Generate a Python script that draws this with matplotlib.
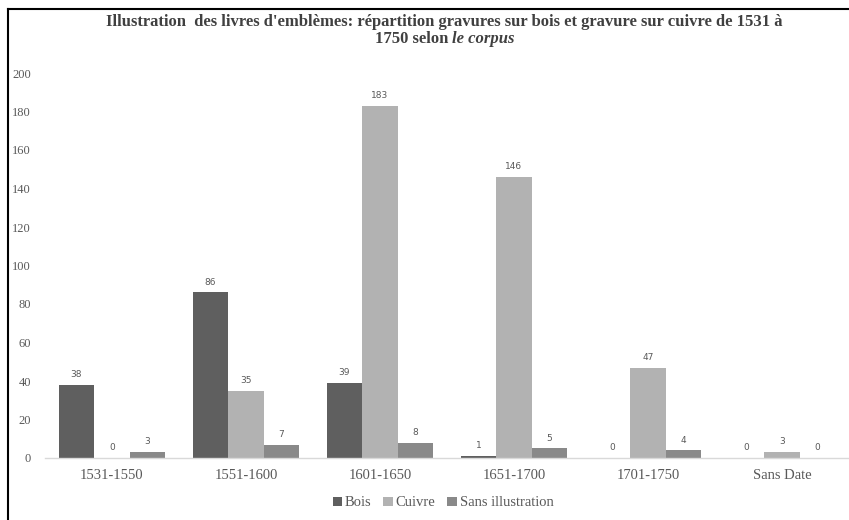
import matplotlib
matplotlib.use("Agg")
import matplotlib.pyplot as plt
from matplotlib.lines import Line2D
import numpy as np

# Nombre de livres d'emblèmes par période et par technique
periodes = ["1531-1550", "1551-1600", "1601-1650", "1651-1700", "1701-1750", "Sans Date"]
bois = [38, 86, 39, 1, 0, 0]
cuivre = [0, 35, 183, 146, 47, 3]
sans_illustration = [3, 7, 8, 5, 4, 0]

series = [("Bois", bois, "#5f5f5f"),
          ("Cuivre", cuivre, "#b2b2b2"),
          ("Sans illustration", sans_illustration, "#898989")]

W, H = 849, 520
fig = plt.figure(figsize=(W / 100, H / 100), dpi=100)
ax = fig.add_axes([45 / W, 1 - 458 / H, (W - 45) / W, (458 - 73) / H])

serif = "Liberation Serif"
label_col = "#595959"
x = np.arange(len(periodes))
width = 0.265

for i, (name, vals, col) in enumerate(series):
    pos = x + (i - 1) * width
    bars = ax.bar(pos, vals, width, color=col, label=name, zorder=2)
    for b, v in zip(bars, vals):
        ax.text(b.get_x() + b.get_width() / 2, v + 3, str(v), ha="center", va="bottom",
                fontsize=6.5, color=label_col, family="DejaVu Sans")

ax.set_xlim(-0.5, len(periodes) - 0.5)
ax.set_ylim(0, 200)
ax.set_yticks(range(0, 201, 20))
ax.set_xticks(x)
ax.set_xticklabels(periodes, family=serif, fontsize=10.5, color=label_col)
for t in ax.get_yticklabels():
    t.set_family(serif)
    t.set_fontsize(9)
    t.set_color(label_col)
ax.tick_params(axis="both", length=0)
ax.tick_params(axis="y", pad=10)
ax.tick_params(axis="x", pad=8)
for s in ["top", "right", "left"]:
    ax.spines[s].set_visible(False)
ax.spines["bottom"].set_color("#d9d9d9")
ax.spines["bottom"].set_linewidth(1)
ax.spines["bottom"].set_zorder(3)

# titre sur deux lignes, la seconde avec "le corpus" en italique
title_col = "#404040"
title_size = 12
fig.text(444 / W, 1 - 22 / H,
         "Illustration  des livres d'emblèmes: répartition gravures sur bois et gravure sur cuivre de 1531 à",
         ha="center", va="center", family=serif, fontsize=title_size, weight="bold", color=title_col)
renderer = fig.canvas.get_renderer()
t1 = fig.text(0, 1 - 39 / H, "1750 selon ", ha="left", va="center", family=serif,
              fontsize=title_size, weight="bold", color=title_col)
t2 = fig.text(0, 1 - 39 / H, "le corpus", ha="left", va="center", family=serif,
              fontsize=title_size, weight="bold", style="italic", color=title_col)
w1 = t1.get_window_extent(renderer).width
w2 = t2.get_window_extent(renderer).width
x0 = 445 - (w1 + w2) / 2
t1.set_x(x0 / W)
t2.set_x((x0 + w1) / W)

leg = fig.legend(loc="center", bbox_to_anchor=(443 / W, 1 - 503 / H), ncol=3, frameon=False,
                 prop={"family": serif, "size": 10.5}, handlelength=0.65, handleheight=0.65,
                 handletextpad=0.2, columnspacing=0.8)
for t in leg.get_texts():
    t.set_color(label_col)

# cadre
fig.add_artist(Line2D([8 / W, 8 / W], [0, 1 - 9 / H], color="black", lw=1.5))
fig.add_artist(Line2D([8 / W, 1], [1 - 9 / H, 1 - 9 / H], color="black", lw=1.5))

fig.savefig("out.png", dpi=100)
